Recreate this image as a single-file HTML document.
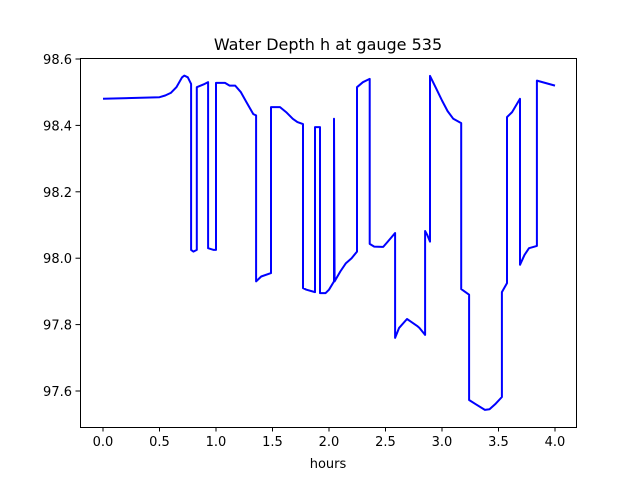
<!DOCTYPE html>
<html><head><meta charset="utf-8"><style>
html,body{margin:0;padding:0;background:#fff;}
svg text{font-family:"DejaVu Sans","Liberation Sans",sans-serif;fill:#000;}
</style></head><body>
<svg id="chart" width="640" height="480" xmlns="http://www.w3.org/2000/svg">
<rect x="0" y="0" width="640" height="480" fill="#fff"/>
<text x="328" y="50" font-size="16" text-anchor="middle">Water Depth h at gauge 535</text>
<text x="328" y="468" font-size="13" text-anchor="middle">hours</text>
<g id="ticks"></g>
<path id="series" fill="none" stroke="#0000ff" stroke-width="2" stroke-linejoin="round"/>
<rect x="80.5" y="58.5" width="496" height="369" fill="none" stroke="#000" stroke-width="1"/>
</svg>
<script>
const hours = [0,0.5,0.55,0.6,0.65,0.7,0.72,0.75,0.78,0.78,0.8,0.83,0.83,0.9,0.93,0.93,0.98,1.0,1.0,1.08,1.12,1.17,1.22,1.27,1.33,1.355,1.355,1.4,1.487,1.487,1.566,1.62,1.68,1.72,1.77,1.77,1.8,1.876,1.876,1.92,1.92,1.97,2.0,2.044,2.044,2.05,2.1,2.15,2.2,2.248,2.248,2.3,2.36,2.36,2.4,2.48,2.52,2.585,2.585,2.62,2.69,2.72,2.78,2.8,2.85,2.85,2.87,2.894,2.894,2.95,3.0,3.05,3.1,3.17,3.17,3.24,3.24,3.3,3.38,3.42,3.47,3.53,3.53,3.575,3.575,3.62,3.69,3.69,3.73,3.77,3.84,3.84,4.0];
const depth = [98.48,98.485,98.49,98.498,98.515,98.545,98.55,98.545,98.525,98.025,98.02,98.025,98.515,98.525,98.53,98.03,98.025,98.025,98.528,98.528,98.52,98.52,98.5,98.47,98.434,98.43,97.93,97.945,97.955,98.455,98.455,98.44,98.42,98.41,98.404,97.91,97.905,97.898,98.395,98.395,97.895,97.895,97.905,97.93,98.42,97.93,97.96,97.985,98.0,98.02,98.515,98.53,98.54,98.043,98.035,98.034,98.05,98.076,97.76,97.79,97.817,97.81,97.796,97.79,97.769,98.082,98.07,98.05,98.549,98.51,98.475,98.443,98.42,98.407,97.907,97.89,97.573,97.56,97.543,97.545,97.56,97.582,97.898,97.925,98.425,98.44,98.48,97.98,98.01,98.03,98.037,98.535,98.52];
const xTicks = [0,0.5,1,1.5,2,2.5,3,3.5,4];
const xTickLabels = ["0.0","0.5","1.0","1.5","2.0","2.5","3.0","3.5","4.0"];
const yTicks = [97.6,97.8,98.0,98.2,98.4,98.6];
const yTickLabels = ["97.6","97.8","98.0","98.2","98.4","98.6"];

const X = h => 103 + h * 113;
const Y = v => 59 + (98.6 - v) * 332;

const NS = "http://www.w3.org/2000/svg";
const g = document.getElementById("ticks");
xTicks.forEach((t, i) => {
  const l = document.createElementNS(NS, "line");
  
  
  l.setAttribute("x1", X(t)); l.setAttribute("x2", X(t));
  l.setAttribute("y1", 427); l.setAttribute("y2", 431.5);
  l.setAttribute("stroke", "#000");
  g.appendChild(l);
  const tx = document.createElementNS(NS, "text");
  
  
  tx.setAttribute("x", X(t)); tx.setAttribute("y", 446);
  tx.setAttribute("font-size", "13"); tx.setAttribute("text-anchor", "middle");
  tx.textContent = xTickLabels[i];
  g.appendChild(tx);
});
yTicks.forEach((t, i) => {
  const l = document.createElementNS(NS, "line");
  
  
  l.setAttribute("x1", 75.5); l.setAttribute("x2", 80);
  l.setAttribute("y1", Y(t)); l.setAttribute("y2", Y(t));
  l.setAttribute("stroke", "#000");
  g.appendChild(l);
  const tx = document.createElementNS(NS, "text");
  
  
  tx.setAttribute("x", 72); tx.setAttribute("y", Y(t) + 5);
  tx.setAttribute("font-size", "13"); tx.setAttribute("text-anchor", "end");
  tx.textContent = yTickLabels[i];
  g.appendChild(tx);
});
let d = "";
hours.forEach((h, i) => { d += (i ? "L" : "M") + X(h).toFixed(1) + "," + Y(depth[i]).toFixed(1); });
document.getElementById("series").setAttribute("d", d);
</script>
</body></html>
